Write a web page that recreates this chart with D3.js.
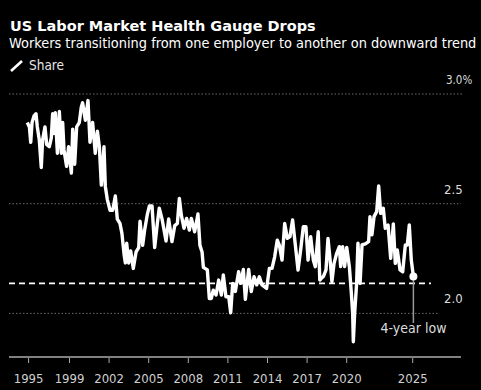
<!DOCTYPE html>
<html>
<head>
<meta charset="utf-8">
<script src="https://cdn.jsdelivr.net/npm/d3@7"></script>
<style>
html, body { margin: 0; padding: 0; background: #000; overflow: hidden; }
text { font-family: "DejaVu Sans", sans-serif; font-stretch: condensed; }
</style>
</head>
<body>
<svg id="chart" width="481" height="390"></svg>
<script>
const years = [
    1995.84, 1996.00, 1996.10, 1996.20, 1996.35, 1996.50, 1996.60, 1996.75, 1996.90, 1997.00,
    1997.18, 1997.31, 1997.51, 1997.66, 1997.76, 1997.86, 1997.96, 1998.12, 1998.27, 1998.42,
    1998.52, 1998.62, 1998.82, 1998.97, 1999.18, 1999.28, 1999.43, 1999.58, 1999.78, 1999.93,
    2000.03, 2000.24, 2000.44, 2000.59, 2000.79, 2000.99, 2001.15, 2001.30, 2001.45, 2001.65,
    2001.75, 2001.90, 2002.11, 2002.31, 2002.51, 2002.66, 2002.86, 2003.01, 2003.17, 2003.27,
    2003.37, 2003.52, 2003.67, 2003.87, 2004.08, 2004.28, 2004.38, 2004.58, 2004.73, 2004.93,
    2005.09, 2005.29, 2005.49, 2005.69, 2005.84, 2006.05, 2006.35, 2006.55, 2006.80, 2007.01,
    2007.21, 2007.36, 2007.51, 2007.71, 2007.91, 2008.12, 2008.27, 2008.52, 2008.77, 2008.92,
    2009.08, 2009.18, 2009.48, 2009.63, 2009.78, 2009.93, 2010.14, 2010.34, 2010.54, 2010.69,
    2010.89, 2011.10, 2011.25, 2011.40, 2011.60, 2011.85, 2012.00, 2012.21, 2012.36, 2012.61,
    2012.81, 2013.02, 2013.22, 2013.42, 2013.62, 2013.97, 2014.18, 2014.38, 2014.58, 2014.78,
    2014.94, 2015.14, 2015.34, 2015.54, 2015.74, 2015.94, 2016.15, 2016.35, 2016.55, 2016.75,
    2016.95, 2017.11, 2017.31, 2017.51, 2017.66, 2017.88, 2018.00, 2018.12, 2018.27, 2018.47,
    2018.62, 2018.77, 2018.92, 2019.08, 2019.28, 2019.48, 2019.58, 2019.73, 2019.88, 2020.04,
    2020.24, 2020.39, 2020.49, 2020.54, 2020.64, 2020.79, 2020.89, 2021.05, 2021.20, 2021.45,
    2021.70, 2021.80, 2021.95, 2022.11, 2022.31, 2022.46, 2022.61, 2022.81, 2022.96, 2023.17,
    2023.37, 2023.57, 2023.72, 2023.87, 2024.08, 2024.28, 2024.48, 2024.63, 2024.78, 2024.93,
    2025.09
]
const rates = [
    2.87, 2.85, 2.78, 2.87, 2.90, 2.91, 2.85, 2.79, 2.665, 2.79,
    2.85, 2.77, 2.76, 2.80, 2.91, 2.82, 2.915, 2.73, 2.92, 2.73,
    2.87, 2.745, 2.67, 2.76, 2.64, 2.84, 2.68, 2.85, 2.87, 2.94,
    2.96, 2.88, 2.97, 2.78, 2.87, 2.73, 2.83, 2.76, 2.585, 2.76,
    2.58, 2.52, 2.47, 2.47, 2.535, 2.43, 2.41, 2.365, 2.27, 2.23,
    2.32, 2.23, 2.285, 2.205, 2.28, 2.30, 2.42, 2.31, 2.38, 2.45,
    2.49, 2.49, 2.30, 2.41, 2.48, 2.43, 2.33, 2.43, 2.327, 2.40,
    2.41, 2.524, 2.448, 2.388, 2.433, 2.38, 2.433, 2.372, 2.453, 2.31,
    2.28, 2.21, 2.198, 2.068, 2.068, 2.106, 2.084, 2.152, 2.084, 2.175,
    2.076, 2.076, 2.003, 2.137, 2.10, 2.19, 2.137, 2.20, 2.064, 2.20,
    2.10, 2.167, 2.13, 2.167, 2.13, 2.114, 2.205, 2.205, 2.258, 2.334,
    2.31, 2.243, 2.41, 2.342, 2.35, 2.426, 2.31, 2.198, 2.289, 2.395,
    2.395, 2.243, 2.35, 2.243, 2.213, 2.372, 2.152, 2.16, 2.168, 2.198,
    2.342, 2.251, 2.145, 2.228, 2.274, 2.304, 2.213, 2.304, 2.213, 2.301,
    2.213, 2.092, 2.00, 1.871, 2.00, 2.137, 2.32, 2.137, 2.312, 2.317,
    2.327, 2.441, 2.358, 2.441, 2.464, 2.581, 2.456, 2.479, 2.388, 2.403,
    2.251, 2.408, 2.228, 2.289, 2.198, 2.19, 2.312, 2.312, 2.403, 2.244,
    2.168
]
const tickYears = [1995.9, 1999, 2002, 2005, 2008, 2011, 2014, 2017, 2020, 2025]
const tickLabels = ["1995", "1999", "2002", "2005", "2008", "2011", "2014", "2017", "2020", "2025"]
const gridValues = [3.0, 2.5, 2.0]
const gridLabels = ["3.0%", "2.5", "2.0"]
const averageRate = 2.137

const svg = d3.select("#chart")

const xScale = d3.scaleLinear().domain([1999, 2025]).range([69, 412.2])
const yScale = d3.scaleLinear().domain([2.0, 3.0]).range([313.4, 94])

// Titles
svg.append("text").attr("x", 10).attr("y", 31)
    .attr("fill", "#fff").attr("font-size", 14.5).attr("font-weight", "bold")
    .style("font-stretch", "normal")
    .text("US Labor Market Health Gauge Drops")
svg.append("text").attr("x", 9).attr("y", 48)
    .attr("fill", "#fff").attr("font-size", 14.4)
    .text("Workers transitioning from one employer to another on downward trend")

// Share icon and label
svg.append("line").attr("x1", 11).attr("y1", 71).attr("x2", 22).attr("y2", 61)
    .attr("stroke", "#fff").attr("stroke-width", 2.6)
svg.append("text").attr("x", 29).attr("y", 70)
    .attr("fill", "#e6e6e6").attr("font-size", 13.5)
    .text("Share")

// Dotted grid, the lowest one stops short of the right edge
const gridEnds = [462, 461, 438]
svg.append("g").selectAll("line")
    .data(gridValues)
    .join("line")
    .attr("x1", 9)
    .attr("x2", (d, i) => gridEnds[i])
    .attr("y1", d => yScale(d))
    .attr("y2", d => yScale(d))
    .attr("stroke", "#6a6a6a")
    .attr("stroke-dasharray", "1.5 2")

svg.append("g").selectAll("text")
    .data(gridValues)
    .join("text")
    .attr("x", (d, i) => i === 0 ? 446 : 444)
    .attr("y", d => yScale(d) - 10)
    .attr("fill", "#dcdcdc")
    .attr("font-size", (d, i) => i === 0 ? 11.5 : 13)
    .text((d, i) => gridLabels[i])

// Bottom axis
const xAxis = d3.axisBottom(xScale)
    .tickValues(tickYears)
    .tickFormat((d, i) => tickLabels[i])
    .tickSize(6)
    .tickPadding(11)
const xAxisGroup = svg.append("g")
    .attr("transform", "translate(0, 357)")
    .call(xAxis)
xAxisGroup.select(".domain").remove()
xAxisGroup.selectAll("line").attr("stroke", "#aaa")
xAxisGroup.selectAll("text").attr("fill", "#d0d0d0").attr("font-size", 13)
    .style("font-family", '"DejaVu Sans", sans-serif')
svg.append("line").attr("x1", 9).attr("x2", 461).attr("y1", 357).attr("y2", 357)
    .attr("stroke", "#808080").attr("stroke-width", 2)

// Series
const line = d3.line()
    .x((d, i) => xScale(years[i]))
    .y(d => yScale(d))
svg.append("path")
    .attr("d", line(rates))
    .attr("fill", "none")
    .attr("stroke", "#fff")
    .attr("stroke-width", 3.4)
    .attr("stroke-linejoin", "round")

// Dashed reference line
svg.append("line")
    .attr("x1", 9).attr("x2", 431)
    .attr("y1", yScale(averageRate)).attr("y2", yScale(averageRate))
    .attr("stroke", "#fff")
    .attr("stroke-width", 1.6)
    .attr("stroke-dasharray", "6 4")

// Last point annotation
const lastYear = years[years.length - 1]
const lastRate = rates[rates.length - 1]
svg.append("line")
    .attr("x1", xScale(lastYear)).attr("x2", xScale(lastYear))
    .attr("y1", yScale(lastRate)).attr("y2", 323)
    .attr("stroke", "#999").attr("stroke-width", 1.5)
svg.append("circle")
    .attr("cx", xScale(lastYear)).attr("cy", yScale(lastRate)).attr("r", 4)
    .attr("fill", "#fff")
svg.append("text")
    .attr("x", 413.5).attr("y", 333)
    .attr("text-anchor", "middle")
    .attr("fill", "#dcdcdc").attr("font-size", 14)
    .text("4-year low")
</script>
</body>
</html>
